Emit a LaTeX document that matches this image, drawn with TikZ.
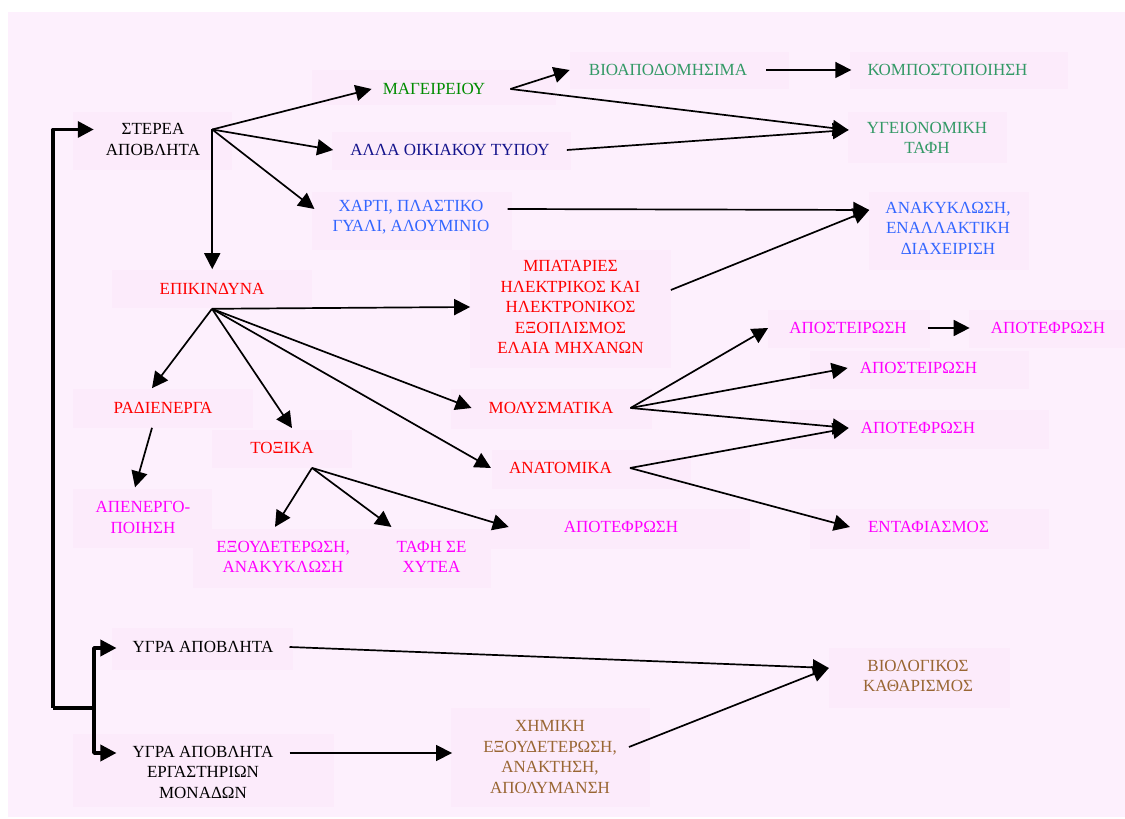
\documentclass[tikz,border=0pt]{standalone}
\usepackage{fontspec}
\setmainfont{Liberation Serif}
\usetikzlibrary{arrows.meta}
\definecolor{bgpink}{RGB}{253,240,253}
\definecolor{boxpink}{RGB}{252,235,251}
\definecolor{kitchen}{RGB}{0,140,0}
\definecolor{household}{RGB}{20,20,140}
\definecolor{recycle}{RGB}{51,102,255}
\definecolor{organic}{RGB}{51,153,102}
\definecolor{hazard}{RGB}{255,0,0}
\definecolor{treat}{RGB}{255,0,255}
\definecolor{liquid}{RGB}{153,102,51}
\begin{document}
\begin{tikzpicture}[>={Triangle[length=16bp,width=16bp]},line join=bevel,
  txt/.style={inner xsep=14bp,inner ysep=14bp,align=center,font=\fontsize{17bp}{20.5bp}\selectfont},
  link/.style={black,line width=1.7bp,->},
  rail/.style={black,line width=3.4bp,line join=round}]
\useasboundingbox (0bp,0bp) rectangle (1125bp,819bp);
\fill [bgpink] (8bp,2bp) rectangle (1125bp,807bp);
%% faint boxes behind the labels
\fill [boxpink] (73bp,707bp) rectangle (232bp,649bp);
\fill [boxpink] (312bp,749bp) rectangle (556bp,714bp);
\fill [boxpink] (332bp,687bp) rectangle (571bp,649bp);
\fill [boxpink] (312bp,627bp) rectangle (512bp,569bp);
\fill [boxpink] (570bp,767bp) rectangle (789bp,730bp);
\fill [boxpink] (850bp,767bp) rectangle (1068bp,730bp);
\fill [boxpink] (848bp,707bp) rectangle (1007bp,656bp);
\fill [boxpink] (869bp,627bp) rectangle (1029bp,549bp);
\fill [boxpink] (112bp,549bp) rectangle (312bp,511bp);
\fill [boxpink] (470bp,569bp) rectangle (671bp,451bp);
\fill [boxpink] (73bp,430bp) rectangle (253bp,391bp);
\fill [boxpink] (212bp,389bp) rectangle (352bp,351bp);
\fill [boxpink] (451bp,430bp) rectangle (652bp,390bp);
\fill [boxpink] (492bp,369bp) rectangle (691bp,330bp);
\fill [boxpink] (73bp,330bp) rectangle (212bp,271bp);
\fill [boxpink] (193bp,290bp) rectangle (360bp,231bp);
\fill [boxpink] (360bp,290bp) rectangle (491bp,231bp);
\fill [boxpink] (490bp,310bp) rectangle (750bp,270bp);
\fill [boxpink] (768bp,509bp) rectangle (930bp,471bp);
\fill [boxpink] (969bp,509bp) rectangle (1125bp,471bp);
\fill [boxpink] (810bp,468bp) rectangle (1029bp,430bp);
\fill [boxpink] (790bp,409bp) rectangle (1049bp,370bp);
\fill [boxpink] (810bp,310bp) rectangle (1049bp,270bp);
\fill [boxpink] (112bp,191bp) rectangle (293bp,149bp);
\fill [boxpink] (73bp,85bp) rectangle (334bp,12bp);
\fill [boxpink] (451bp,111bp) rectangle (650bp,12bp);
\fill [boxpink] (829bp,171bp) rectangle (1010bp,111bp);
%% labels
\node (ster) at (153bp,679.5bp) [txt,inner xsep=12bp] {ΣΤΕΡΕΑ\\ΑΠΟΒΛΗΤΑ};
\node (mag) at (434bp,730bp) [txt,text=kitchen,inner xsep=11bp] {ΜΑΓΕΙΡΕΙΟΥ};
\node (alla) at (450bp,669bp) [txt,text=household,inner xsep=17bp] {ΑΛΛΑ ΟΙΚΙΑΚΟΥ ΤΥΠΟΥ};
\node (xarti) at (411bp,602bp) [txt,text=recycle,inner xsep=18bp] {ΧΑΡΤΙ, ΠΛΑΣΤΙΚΟ\\ΓΥΑΛΙ, ΑΛΟΥΜΙΝΙΟ};
\node (bioap) at (668bp,749bp) [txt,text=organic,inner xsep=19bp] {ΒΙΟΑΠΟΔΟΜΗΣΙΜΑ};
\node (kompost) at (947.5bp,749bp) [txt,text=organic,inner xsep=16bp] {ΚΟΜΠΟΣΤΟΠΟΙΗΣΗ};
\node (ygeion) at (927bp,681bp) [txt,text=organic,inner xsep=18bp] {ΥΓΕΙΟΝΟΜΙΚΗ\\ΤΑΦΗ};
\node (anakykl) at (948bp,591bp) [txt,text=recycle,inner xsep=16bp] {ΑΝΑΚΥΚΛΩΣΗ,\\ΕΝΑΛΛΑΚΤΙΚΗ\\ΔΙΑΧΕΙΡΙΣΗ};
\node (epik) at (212bp,530bp) [txt,text=hazard] {ΕΠΙΚΙΝΔΥΝΑ};
\node (mpat) at (570.5bp,512bp) [txt,text=hazard,inner xsep=27bp] {ΜΠΑΤΑΡΙΕΣ\\ΗΛΕΚΤΡΙΚΟΣ ΚΑΙ\\ΗΛΕΚΤΡΟΝΙΚΟΣ\\ΕΞΟΠΛΙΣΜΟΣ\\ΕΛΑΙΑ ΜΗΧΑΝΩΝ};
\node (radien) at (163bp,411bp) [txt,text=hazard] {ΡΑΔΙΕΝΕΡΓΑ};
\node (toxika) at (282bp,371bp) [txt,text=hazard] {ΤΟΞΙΚΑ};
\node (molysm) at (551bp,411bp) [txt,text=hazard,inner xsep=17bp] {ΜΟΛΥΣΜΑΤΙΚΑ};
\node (anatom) at (560.5bp,351bp) [txt,text=hazard,inner xsep=18bp] {ΑΝΑΤΟΜΙΚΑ};
\node (apenerg) at (143bp,301.5bp) [txt,text=treat] {ΑΠΕΝΕΡΓΟ-\\ΠΟΙΗΣΗ};
\node (exoud) at (283bp,262bp) [txt,text=treat] {ΕΞΟΥΔΕΤΕΡΩΣΗ,\\ΑΝΑΚΥΚΛΩΣΗ};
\node (tafi) at (431.5bp,262bp) [txt,text=treat,inner xsep=5bp] {ΤΑΦΗ ΣΕ\\ΧΥΤΕΑ};
\node (apotef1) at (621bp,292bp) [txt,text=treat,inner xsep=55bp] {ΑΠΟΤΕΦΡΩΣΗ};
\node (aposteir1) at (848bp,491bp) [txt,text=treat,inner xsep=21bp] {ΑΠΟΣΤΕΙΡΩΣΗ};
\node (apotef2) at (1048bp,491bp) [txt,text=treat,inner xsep=21bp] {ΑΠΟΤΕΦΡΩΣΗ};
\node (aposteir2) at (918.5bp,451bp) [txt,text=treat,inner xsep=12bp] {ΑΠΟΣΤΕΙΡΩΣΗ};
\node (apotef3) at (918bp,391bp) [txt,text=treat,inner xsep=12bp] {ΑΠΟΤΕΦΡΩΣΗ};
\node (entaf) at (928.5bp,292bp) [txt,text=treat,inner xsep=18bp] {ΕΝΤΑΦΙΑΣΜΟΣ};
\node (ygra) at (203bp,172bp) [txt,inner xsep=16bp] {ΥΓΡΑ ΑΠΟΒΛΗΤΑ};
\node (ygraerg) at (203bp,47bp) [txt,inner xsep=16bp] {ΥΓΡΑ ΑΠΟΒΛΗΤΑ\\ΕΡΓΑΣΤΗΡΙΩΝ\\ΜΟΝΑΔΩΝ};
\node (ximiki) at (550bp,62bp) [txt,text=liquid,inner xsep=31bp] {ΧΗΜΙΚΗ\\ΕΞΟΥΔΕΤΕΡΩΣΗ,\\ΑΝΑΚΤΗΣΗ,\\ΑΠΟΛΥΜΑΝΣΗ};
\node (biol) at (918bp,143bp) [txt,text=liquid,inner xsep=34bp] {ΒΙΟΛΟΓΙΚΟΣ\\ΚΑΘΑΡΙΣΜΟΣ};
%% fan-out points and the left rail
\coordinate (jster) at ([yshift=10bp]ster.east);
\coordinate (jmag) at ([xshift=14bp]mag.east);
\coordinate (jtox) at ([xshift=30bp]toxika.south);
\coordinate (btop) at (53bp,689.5bp);
\coordinate (bbot) at (53bp,111bp);
\coordinate (bmid) at (94bp,111bp);
\coordinate (bup) at (94bp,171bp);
\coordinate (bdown) at (94bp,66bp);
%
\draw [rail,->] (bbot) -- (btop) -- (btop -| ster.west);
\draw [rail] (bbot) -- (bmid);
\draw [rail,->] (bmid) -- (bup) -- (bup -| ygra.west);
\draw [rail,->] (bmid) -- (bdown) -- (bdown -| ygraerg.west);
%
\draw [link] (jster) -- (mag.west);
\draw [link] (jster) -- (alla.west);
\draw [link] (jster) -- ([yshift=8bp]xarti.west);
\draw [link] (jster) -- (jster |- epik.north);
\draw [link] (jmag) -- (bioap.west);
\draw [link] (jmag) -- ([yshift=8bp]ygeion.west);
\draw [link] (alla.east) -- ([yshift=8bp]ygeion.west);
\draw [link] (bioap.east) -- (kompost.west);
\draw [link] ([yshift=8bp]xarti.east) -- ([yshift=18bp]anakykl.west);
\draw [link] ([yshift=17bp]mpat.east) -- ([yshift=18bp]anakykl.west);
%
\draw [link] (epik.south) -- (mpat.west);
\draw [link] (epik.south) -- ([xshift=-11bp]radien.north);
\draw [link] (epik.south) -- ([xshift=10bp]toxika.north);
\draw [link] (epik.south) -- (molysm.west);
\draw [link] (epik.south) -- (anatom.west);
\draw [link] ([xshift=-11bp]radien.south) -- ([xshift=-8bp]apenerg.north);
\draw [link] (jtox) -- ([xshift=-8bp]exoud.north);
\draw [link] (jtox) -- (tafi.north west);
\draw [link] (jtox) -- (apotef1.west);
\draw [link] (molysm.east) -- (aposteir1.west);
\draw [link] (molysm.east) -- (aposteir2.west);
\draw [link] (molysm.east) -- (apotef3.west);
\draw [link] (anatom.east) -- (apotef3.west);
\draw [link] (anatom.east) -- (entaf.west);
\draw [link] (aposteir1.east) -- (apotef2.west);
%
\draw [link] (ygra.east) -- ([yshift=8bp]biol.west);
\draw [link] (ygraerg.east |- bdown) -- (bdown -| ximiki.west);
\draw [link] ([shift={(-19bp,10bp)}]ximiki.east) -- ([yshift=8bp]biol.west);
%
\end{tikzpicture}
\end{document}
